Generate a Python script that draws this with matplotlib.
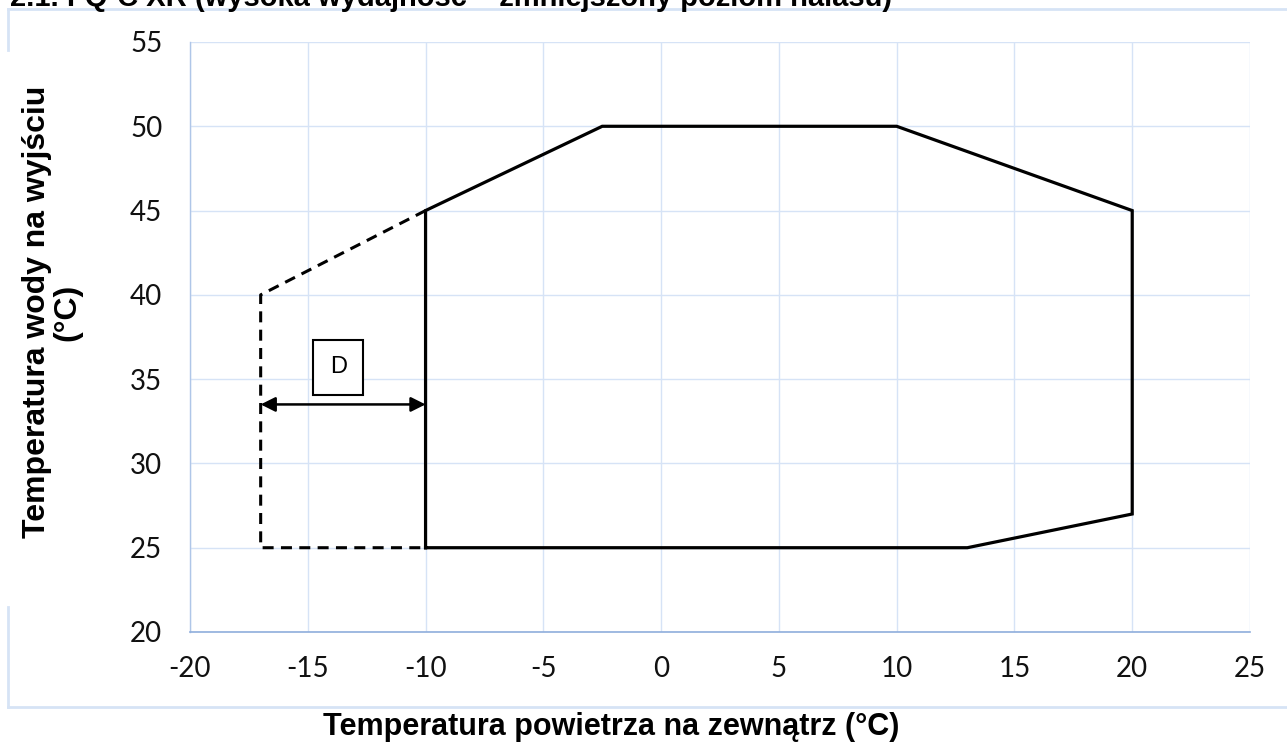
import matplotlib
matplotlib.use("Agg")
import matplotlib.pyplot as plt
from matplotlib.lines import Line2D

plt.rcParams["axes.unicode_minus"] = False

# operating envelope (outdoor air temp, leaving water temp)
solid_x = [-10, -10, -2.5, 10, 20, 20, 13, -10]
solid_y = [25, 45, 50, 50, 45, 27, 25, 25]
dashed_x = [-10, -17, -17, -10]
dashed_y = [45, 40, 25, 25]

arrow_x = [-17, -10]
arrow_y = 33.5
box_label = "D"
box_pos = (-13.7, 35.7)

xticks = [-20, -15, -10, -5, 0, 5, 10, 15, 20, 25]
yticks = [20, 25, 30, 35, 40, 45, 50, 55]

title = "2.1. FQ-C XR (wysoka wydajność – zmniejszony poziom hałasu)"
xlabel = "Temperatura powietrza na zewnątrz (°C)"
ylabel = "Temperatura wody na wyjściu\n(°C)"

W, H = 1287, 744
fig = plt.figure(figsize=(W / 100, H / 100), dpi=100)
ax = fig.add_axes([190 / W, 1 - 632 / H, 1060 / W, 590 / H])

grid_c = "#D6E3F6"
ax.set_xlim(-20, 25)
ax.set_ylim(20, 55)
ax.set_xticks(xticks)
ax.set_yticks(yticks)
ax.grid(True, color=grid_c, lw=1.0)
ax.set_axisbelow(True)
for s in ["top", "right"]:
    ax.spines[s].set_visible(False)
ax.spines["left"].set_color("#AFC6E8")
ax.spines["bottom"].set_color("#8FAEDC")
ax.spines["left"].set_linewidth(1.0)
ax.spines["bottom"].set_linewidth(1.2)
ax.tick_params(length=0, labelsize=20, labelcolor="#111111")
ax.tick_params(axis="y", pad=20)
ax.tick_params(axis="x", pad=17)
for lab in ax.get_xticklabels() + ax.get_yticklabels():
    lab.set_fontfamily("Lato")

ax.plot(solid_x, solid_y, color="black", lw=2.3, solid_joinstyle="miter")
ax.plot(dashed_x, dashed_y, color="black", lw=2.2, ls=(0, (3.6, 2.4)))

ax.annotate("", xy=(arrow_x[1], arrow_y), xytext=(arrow_x[0], arrow_y),
            arrowprops=dict(arrowstyle="<|-|>", color="black", lw=1.8,
                            mutation_scale=22, shrinkA=0, shrinkB=0))
ax.text(box_pos[0], box_pos[1], box_label, ha="center", va="center",
        fontsize=17, family="Liberation Sans",
        bbox=dict(boxstyle="square,pad=0.7", fc="white", ec="black", lw=1.5))

fig.text(611 / W, 1 - 727 / H, xlabel, ha="center", va="center",
         fontsize=22, fontweight="bold", family="Liberation Sans")
fig.text(52 / W, 1 - 312 / H, ylabel, ha="center", va="center", rotation=90,
         fontsize=23, fontweight="bold", family="Liberation Sans",
         multialignment="center", linespacing=1.0)
fig.text(10 / W, 1 - 6 / H, title, ha="left", va="baseline",
         fontsize=21, fontweight="bold", family="Liberation Sans")

# outer chart frame (broken on the left where the y label sits)
fc = "#D6E3F5"
for xs, ys in [([8, W], [9, 9]), ([8, W], [707, 707]),
               ([8, 8], [9, 50]), ([8, 8], [607, 707])]:
    fig.add_artist(Line2D([x / W for x in xs], [1 - y / H for y in ys],
                          color=fc, lw=2.0, transform=fig.transFigure))

fig.savefig("out.png", dpi=100)
